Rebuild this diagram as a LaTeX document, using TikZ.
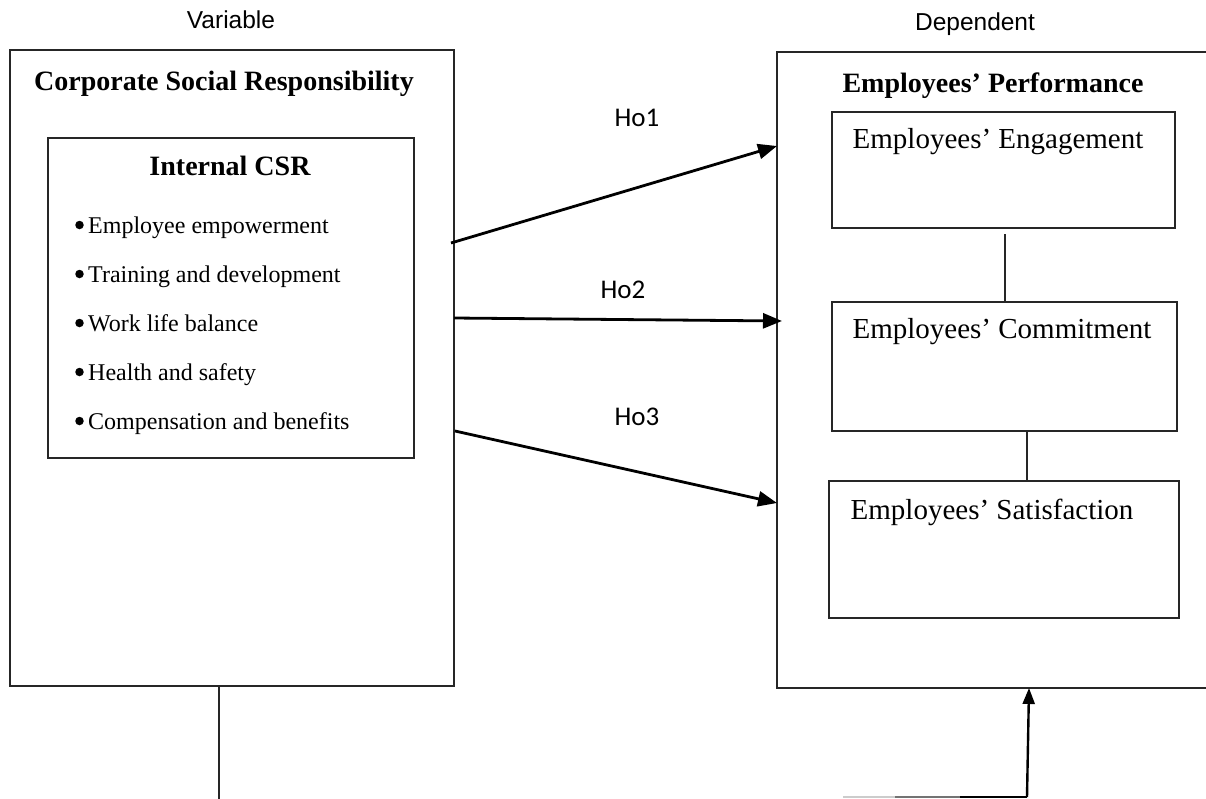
\documentclass[tikz,border=0pt]{standalone}
\usepackage{fontspec}
\setmainfont{Liberation Serif}
\newfontfamily\hsans{Liberation Sans}
\newfontfamily\calib{Carlito}
\usetikzlibrary{arrows.meta,calc}
\begin{document}
\begin{tikzpicture}[x=1pt,y=-1pt,
  box/.style={draw=black!85, line width=1.3pt, inner sep=0pt, outer sep=0pt},
  arr/.style={line width=2.8pt, -{Triangle[length=19pt,width=15pt]}},
  uparr/.style={line width=2.4pt, -{Triangle[length=16pt,width=12pt]}},
  link/.style={line width=1.1pt, draw=black!85},
  head/.style={anchor=base, font=\bfseries\fontsize{28}{32}\selectfont},
  sub/.style={anchor=base, font=\fontsize{29}{33}\selectfont},
  item/.style={anchor=base west, inner sep=0pt, font=\fontsize{24}{28}\selectfont},
  dot/.style={circle, fill=black, inner sep=0pt, minimum size=8.5pt},
  toplab/.style={anchor=base, font=\hsans\fontsize{24.5}{28}\selectfont},
  hlab/.style={anchor=base, font=\calib\fontsize{27}{31}\selectfont}
]
\useasboundingbox (0,0) rectangle (1206,798);
\clip (0,0) rectangle (1206,798);

% boxes
\node[box, minimum width=444pt, minimum height=636pt] (L) at (232,368) {};
\node[box, minimum width=366pt, minimum height=320pt] (I) at (231,298) {};
\node[box, minimum width=453pt, minimum height=636pt] (R) at (1003.5,370) {};
\node[box, minimum width=343pt, minimum height=116pt] (E1) at (1003.5,170) {};
\node[box, minimum width=345pt, minimum height=129pt] (E2) at (1004.5,366.5) {};
\node[box, minimum width=350pt, minimum height=137pt] (E3) at (1004,549.5) {};

% texts
\node[toplab] (tv) at (231,28) {Variable};
\node[toplab] (td) at (975,30) {Dependent};
\node[head] (csr) at (224,90) {Corporate Social Responsibility};
\node[head] (icsr) at (230,175) {Internal CSR};
\node[head] (ep) at (993,92) {Employees’ Performance};
\node[sub] (t1) at (998,148) {Employees’ Engagement};
\node[sub] (t2) at (1002,338) {Employees’ Commitment};
\node[sub] (t3) at (992,519) {Employees’ Satisfaction};

\node[dot] (d1) at (79.5,225) {};
\node[dot] (d2) at (79.5,274) {};
\node[dot] (d3) at (79.5,323) {};
\node[dot] (d4) at (79.5,372) {};
\node[dot] (d5) at (79.5,421) {};
\node[item] (b1) at (88,233) {Employee empowerment};
\node[item] (b2) at (88,282) {Training and development};
\node[item] (b3) at (88,331) {Work life balance};
\node[item] (b4) at (88,380) {Health and safety};
\node[item] (b5) at (88,429) {Compensation and benefits};

% hypotheses
\node[hlab] (h1) at (637,126) {Ho1};
\node[hlab] (h2) at (623,298) {Ho2};
\node[hlab] (h3) at (637,425) {Ho3};

\coordinate (h1s) at (451,243);
\coordinate (h1e) at (777,146);
\coordinate (h2s) at (454,318);
\coordinate (h2e) at (782,321);
\coordinate (h3s) at (455,431);
\coordinate (h3e) at (777,503);
\draw[arr] (h1s) -- (R.west |- h1e);
\draw[arr] (h2s) -- (h2e);
\draw[arr] (h3s) -- (R.west |- h3e);

% links between dependent boxes
\coordinate (k1) at (1005,234);
\draw[link] (k1) -- (E2.north -| k1);
\coordinate (k2) at (1027,0);
\draw[link] (E2.south -| k2) -- (E3.north -| k2);

% bottom lines
\coordinate (lb) at (219,800);
\draw[link] (L.south -| lb) -- (lb);
\coordinate (rb) at (1027,797);
\coordinate (rt) at (1029,0);
\draw[line width=1.6pt, black!20] (843,797) -- (895,797);
\draw[line width=1.6pt, black!55] (895,797) -- (960,797);
\draw[line width=1.6pt, black] (960,797) -- (rb);
\draw[uparr] (rb) -- (R.south -| rt);
\end{tikzpicture}
\end{document}
